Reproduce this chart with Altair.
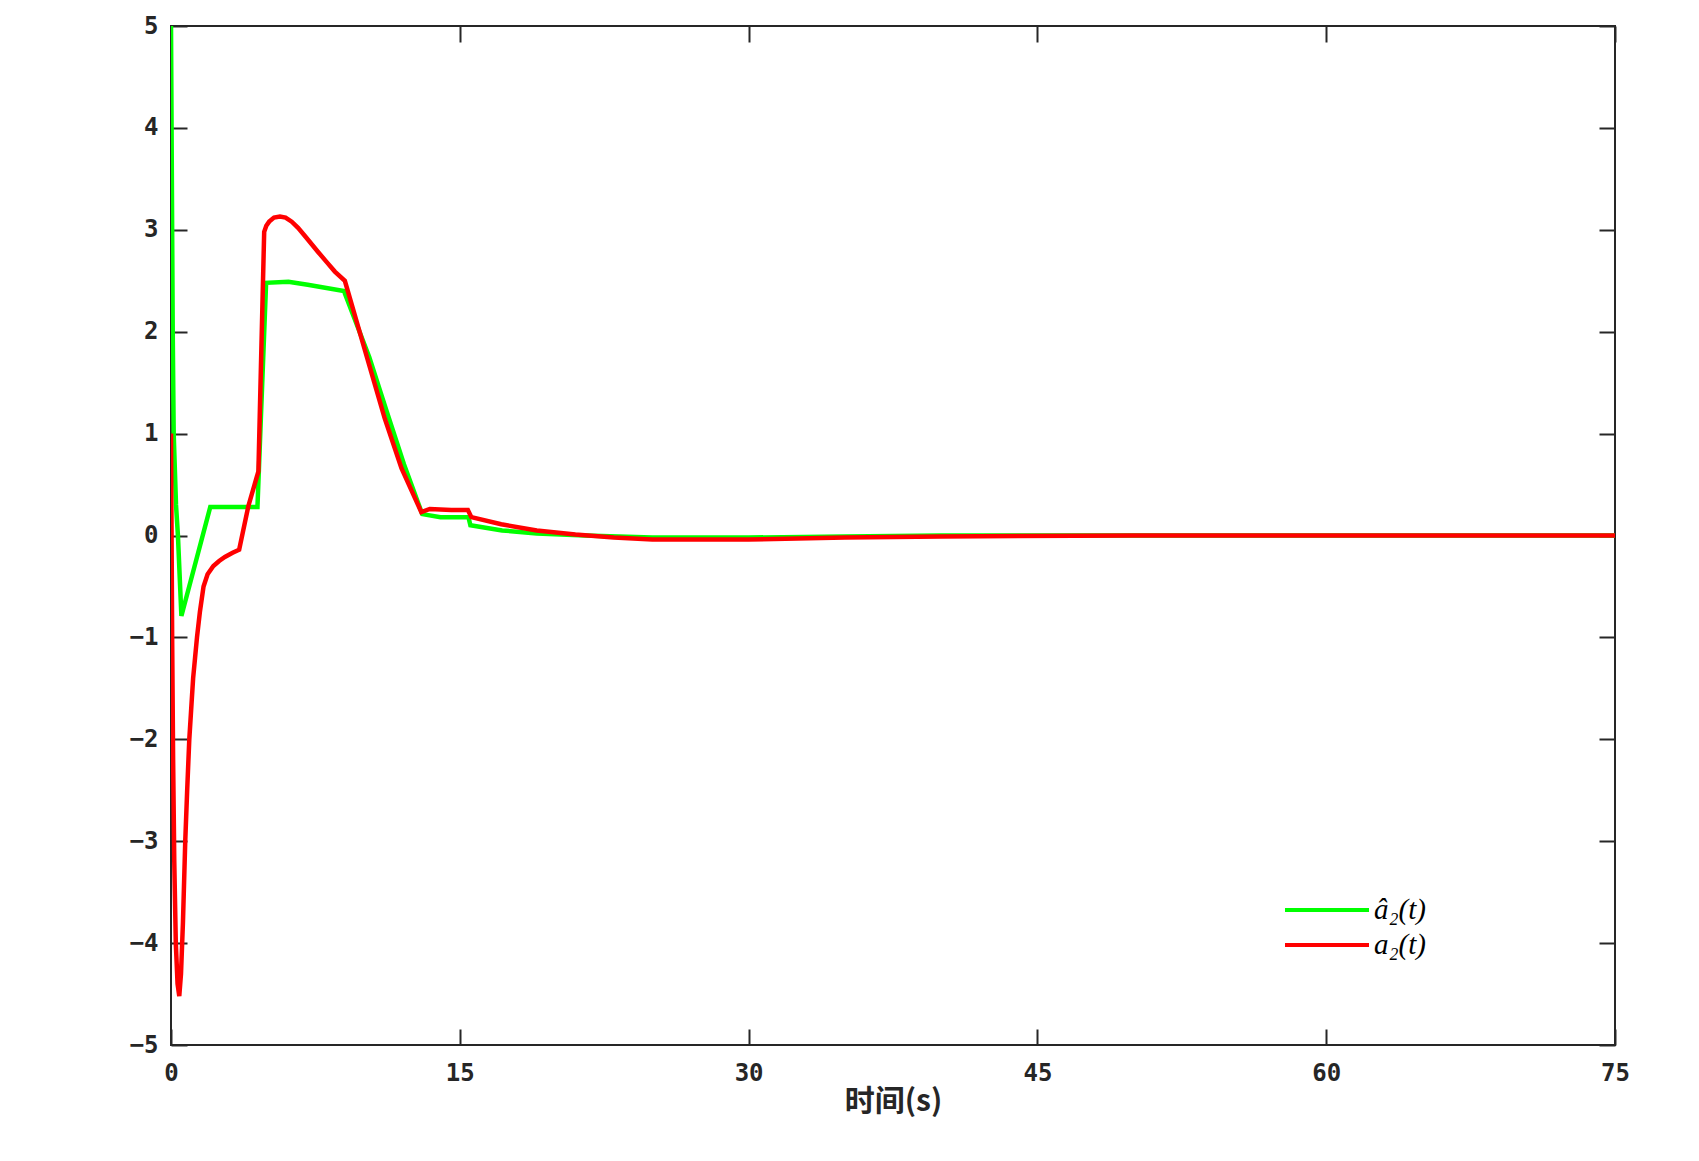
import altair as alt
import pandas as pd

# estimated parameter a2_hat(t)
t_hat = [0, 0.09, 0.14, 0.26, 0.36, 0.54, 2.04, 4.49, 4.94, 6.1, 7.1, 8.98,
         10.3, 11.2, 12.1, 13.05, 14.0, 15.45, 15.55, 17.2, 19.0, 21.5,
         25.0, 30.0, 35.0, 40.0, 75.0]
a_hat = [5.0, 2.0, 1.0, 0.3, 0.0, -0.79, 0.28, 0.28, 2.48, 2.49, 2.46, 2.40,
         1.75, 1.22, 0.70, 0.21, 0.18, 0.18, 0.10, 0.05, 0.02, 0.0,
         -0.02, -0.02, -0.01, 0.0, 0.0]

# true parameter a2(t)
t_true = [0, 0.06, 0.11, 0.17, 0.25, 0.34, 0.43, 0.52, 0.62, 0.74, 0.84, 0.95,
          1.05, 1.15, 1.25, 1.35, 1.5, 1.69, 1.9, 2.2, 2.5, 2.8, 3.2, 3.54,
          4.02, 4.54, 4.84, 4.95, 5.1, 5.35, 5.66, 5.95, 6.27, 6.6, 7.0, 7.65,
          8.1, 8.51, 9.03, 10.24, 11.1, 11.97, 13.0, 13.44, 14.56, 15.42,
          15.6, 17.15, 19.0, 21.0, 23.0, 25.0, 30.0, 35.0, 40.0, 50.0, 75.0]
a_true = [1.0, -1.0, -2.2, -3.2, -4.0, -4.4, -4.52, -4.3, -3.8, -3.0, -2.5, -2.0,
          -1.7, -1.4, -1.2, -1.0, -0.75, -0.5, -0.38, -0.3, -0.25, -0.21, -0.17, -0.14,
          0.29, 0.63, 2.98, 3.04, 3.08, 3.12, 3.13, 3.12, 3.08, 3.02, 2.93, 2.78,
          2.68, 2.59, 2.50, 1.71, 1.15, 0.66, 0.23, 0.26, 0.25, 0.25,
          0.18, 0.11, 0.05, 0.01, -0.02, -0.04, -0.04, -0.02, -0.01, 0.0, 0.0]

names = ["â₂(t)", "a₂(t)"]
colors = ["#00ff00", "#ff0000"]
x_ticks = [0, 15, 30, 45, 60, 75]
y_ticks = [-5, -4, -3, -2, -1, 0, 1, 2, 3, 4, 5]

W, H = 1444, 1019
INK = "#262626"

frame = pd.concat([
    pd.DataFrame({"t": t_hat, "v": a_hat, "series": names[0]}),
    pd.DataFrame({"t": t_true, "v": a_true, "series": names[1]}),
])

x_scale = alt.Scale(domain=[0, 75], nice=False, zero=False)
y_scale = alt.Scale(domain=[-5, 5], nice=False, zero=False)


def label_axis(values, orient, padding, title=""):
    """Axis that only carries the tick labels (and title)."""
    return alt.Axis(
        values=values, orient=orient, ticks=False, domain=False, grid=False,
        labelFlush=False, labelPadding=padding, labelFont="DejaVu Sans Mono",
        labelFontWeight="bold", labelFontSize=24, labelColor=INK, title=title,
        titleFont="Noto Sans CJK SC", titleFontWeight="bold", titleFontSize=30,
        titleColor=INK, titlePadding=1,
    )


def tick_axis(values, orient, offset):
    """Axis pushed across the plot so its ticks point inward."""
    return alt.Axis(
        values=values, orient=orient, offset=offset, labels=False, domain=False,
        grid=False, tickSize=16, tickWidth=2, tickColor=INK, title="",
    )


lines = alt.Chart(frame).mark_line(strokeWidth=4.5, clip=True).encode(
    x=alt.X("t:Q", scale=x_scale, axis=label_axis(x_ticks, "bottom", 16, "时间(s)")),
    y=alt.Y("v:Q", scale=y_scale, axis=label_axis(y_ticks, "left", 13)),
    color=alt.Color(
        "series:N",
        scale=alt.Scale(domain=names, range=colors),
        title=None,
        legend=alt.Legend(
            orient="none", legendX=1140, legendY=868, padding=0,
            symbolType="M-3,0H3", symbolSize=784, symbolStrokeWidth=4,
            labelFont="Liberation Serif", labelFontStyle="italic",
            labelFontSize=29, labelColor="#000000", labelOffset=31, rowPadding=4,
        ),
    ),
)


def tick_layer(x_orient, y_orient):
    return alt.Chart(frame).mark_point(opacity=0).encode(
        x=alt.X("t:Q", scale=x_scale, axis=tick_axis(x_ticks, x_orient, -H)),
        y=alt.Y("v:Q", scale=y_scale, axis=tick_axis(y_ticks, y_orient, -W)),
    )


chart = alt.layer(
    lines,
    tick_layer("top", "right"),
    tick_layer("bottom", "left"),
).resolve_axis(
    x="independent", y="independent"
).properties(
    width=W,
    height=H,
    autosize=alt.AutoSizeParams(type="none"),
    padding={"left": 163, "top": 18, "right": 76, "bottom": 108},
).configure_view(stroke=INK, strokeWidth=2)

chart.save("out.html", embed_options={"renderer": "svg", "actions": False})
